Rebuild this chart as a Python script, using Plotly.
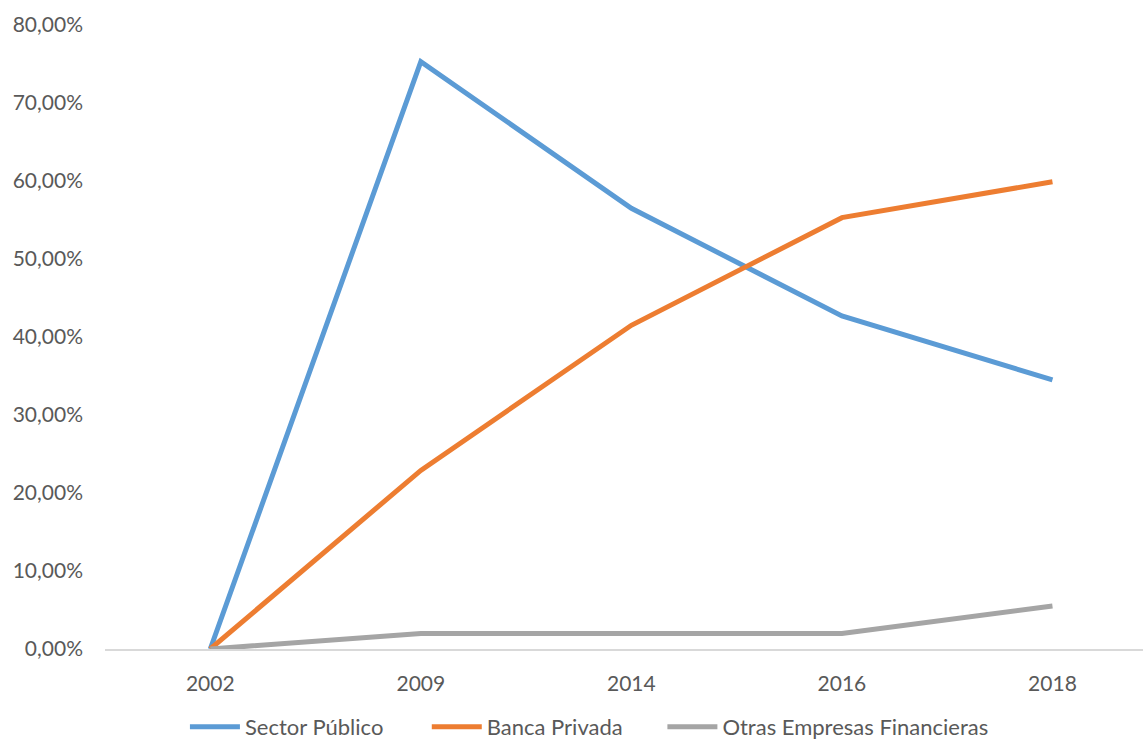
import plotly.graph_objects as go

years = ["2002", "2009", "2014", "2016", "2018"]
sector_publico = [0.0, 0.753, 0.565, 0.427, 0.345]
banca_privada = [0.0, 0.229, 0.415, 0.553, 0.599]
otras_empresas = [0.0, 0.020, 0.020, 0.020, 0.055]

series = [
    ("Sector Público", sector_publico, "#5B9BD5"),
    ("Banca Privada", banca_privada, "#ED7D31"),
    ("Otras Empresas Financieras", otras_empresas, "#A5A5A5"),
]

# one legend per series so each entry sits at its own spot in the bottom row
legend_ids = ["legend", "legend2", "legend3"]
legend_x = [0.077, 0.310, 0.537]

fig = go.Figure()
for (name, vals, color), lid in zip(series, legend_ids):
    fig.add_trace(go.Scatter(
        x=years, y=vals, name=name, mode="lines",
        line=dict(color=color, width=5),
        legend=lid,
    ))

font_family = "Lato, 'Open Sans', sans-serif"

legend_common = dict(
    orientation="h", xanchor="left",
    y=-0.125, yanchor="middle",
    font=dict(size=22, color="#595959"),
    itemwidth=50, bgcolor="rgba(0,0,0,0)",
)

fig.update_layout(
    width=1143, height=743,
    margin=dict(l=105, r=0, t=25, b=94, autoexpand=False),
    plot_bgcolor="white", paper_bgcolor="white",
    separators=",.",
    font=dict(family=font_family, size=21, color="#595959"),
    showlegend=True,
    xaxis=dict(
        type="category", range=[-0.5, 4.43],
        showline=True, linecolor="#D9D9D9", linewidth=1.5,
        showgrid=False, ticks="", zeroline=False,
        tickfont=dict(size=21, color="#595959"),
        ticklabelstandoff=15,
    ),
    yaxis=dict(
        range=[0, 0.8], dtick=0.1, tickformat=".2%",
        showgrid=False, zeroline=False, showline=False,
        ticks="", ticklabelstandoff=21,
        tickfont=dict(size=21, color="#595959"),
    ),
)
for lid, lx in zip(legend_ids, legend_x):
    fig.update_layout({lid: dict(legend_common, x=lx)})

fig.write_html("out.html")
